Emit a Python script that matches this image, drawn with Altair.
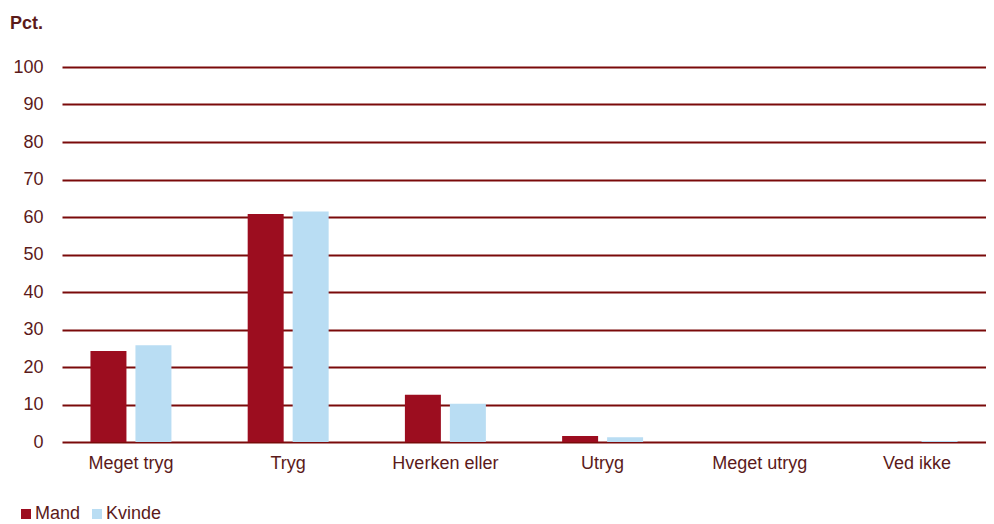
import altair as alt
import pandas as pd

categories = ["Meget tryg", "Tryg", "Hverken eller", "Utryg", "Meget utryg", "Ved ikke"]
series = ["Mand", "Kvinde"]
mand = [24.3, 60.8, 12.6, 1.6, 0.0, 0.0]
kvinde = [25.8, 61.5, 10.2, 1.3, 0.0, 0.3]
y_ticks = [0, 10, 20, 30, 40, 50, 60, 70, 80, 90, 100]

rows = []
for i, c in enumerate(categories):
    rows.append({"kategori": c, "køn": "Mand", "pct": mand[i]})
    rows.append({"kategori": c, "køn": "Kvinde", "pct": kvinde[i]})
df = pd.DataFrame(rows)

TEXT = "#5b1a1a"
GRID = "#7a0a0a"
FONT = "Liberation Sans"

chart = alt.Chart(df).mark_bar().encode(
    x=alt.X("kategori:N", sort=categories,
            scale=alt.Scale(paddingInner=0.485, paddingOuter=0.181),
            axis=alt.Axis(title=None, labelAngle=0, ticks=False, domain=False,
                          labelPadding=12, labelFontSize=18, labelColor=TEXT,
                          labelFont=FONT)),
    xOffset=alt.XOffset("køn:N", sort=series,
                        scale=alt.Scale(domain=series, paddingInner=0.2, paddingOuter=0)),
    y=alt.Y("pct:Q", scale=alt.Scale(domain=[0, 100], nice=False),
            axis=alt.Axis(title=None, values=y_ticks, ticks=False, tickSize=0, domain=False,
                          labelPadding=19, labelFontSize=18, labelColor=TEXT,
                          labelFont=FONT, gridColor=GRID, gridWidth=2, gridOpacity=1)),
    color=alt.Color("køn:N", sort=series,
                    scale=alt.Scale(domain=series, range=["#9c0d1f", "#b9ddf3"]),
                    legend=alt.Legend(title=None, orient="none", direction="horizontal",
                                      legendX=-45, legendY=438, symbolType="square",
                                      symbolSize=100, symbolStrokeWidth=0,
                                      symbolOpacity=1, labelFontSize=18,
                                      labelColor=TEXT, labelFont=FONT,
                                      labelOffset=0, columnPadding=7)),
).properties(
    width=924,
    height=375,
    title=alt.TitleParams("Pct.", anchor="start", frame="group", dx=-52, offset=11,
                          baseline="alphabetic", fontSize=18, fontWeight="bold",
                          color=TEXT, font=FONT),
    autosize=alt.AutoSizeParams(type="none"),
    padding={"left": 54, "top": 59, "right": 0, "bottom": 82},
).configure_view(stroke=None).configure_axis(gridCap="butt")

chart.save("out.html", embed_options={"renderer": "svg", "actions": False})
